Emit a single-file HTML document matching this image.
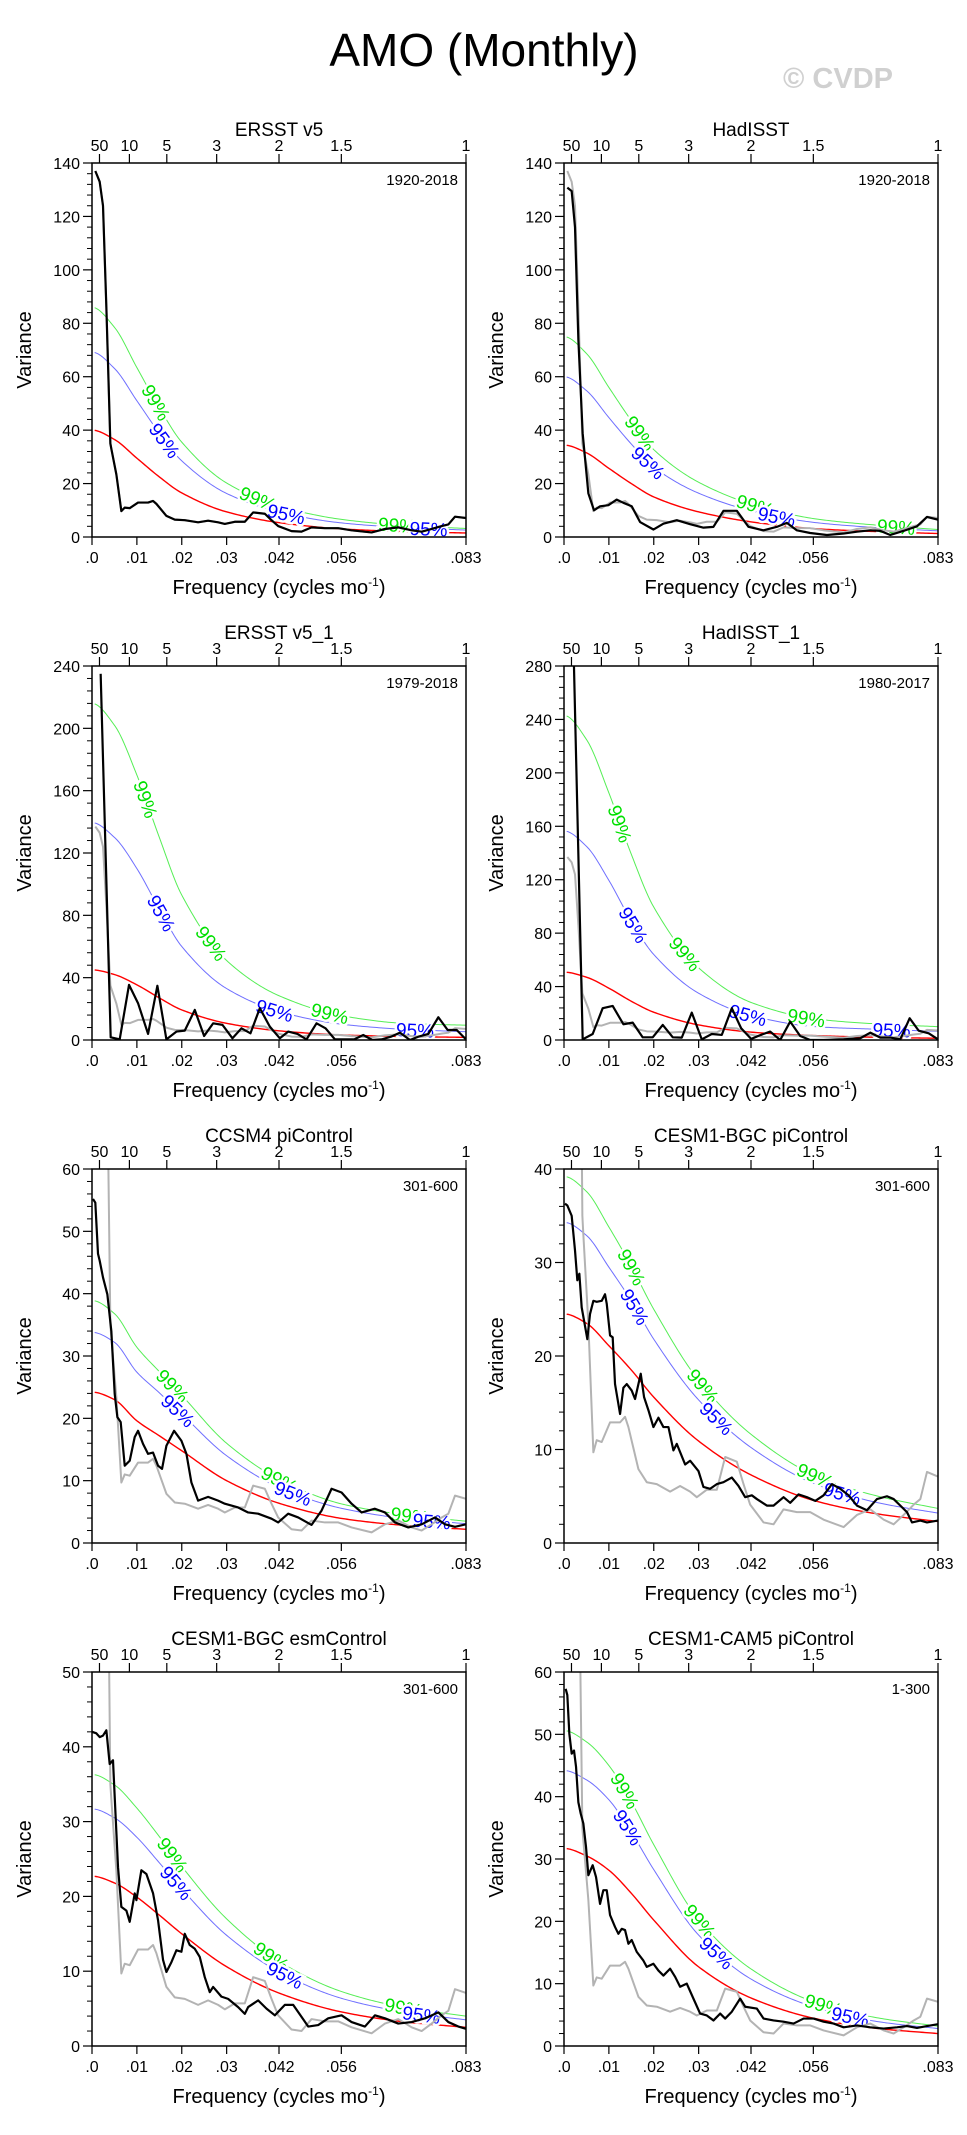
<!DOCTYPE html>
<html><head><meta charset="utf-8"><title>AMO (Monthly)</title>
<style>
html,body{margin:0;padding:0;background:#fff;}
svg{display:block;font-family:"Liberation Sans",Arial,sans-serif;}
</style></head>
<body>
<svg id="fig" width="967" height="2135" viewBox="0 0 967 2135" xmlns="http://www.w3.org/2000/svg">
<rect x="0" y="0" width="967" height="2135" fill="#fff"/>
<text x="484" y="66" font-size="46" text-anchor="middle" fill="#000">AMO (Monthly)</text>
<text x="838" y="88" font-size="29" font-weight="bold" text-anchor="middle" fill="#d0d0d0">© CVDP</text>
<g id="panels"></g>
</svg>
<script>
// ---- shared data ----
const knotFreq = [0, .005, .01, .015, .02, .03, .042, .056, .07, .0833];
const grayFreq = [.00074,.00171,.00245,.0032,.00409,.00431,.00543,.00654,.00729,.0084,.01026,.01249,.0136,.01435,.01658,.01844,.02067,.02364,.02587,.0281,.02959,.03182,.03405,.03591,.03851,.04,.04148,.04446,.04669,.04892,.05189,.05486,.05784,.0623,.06527,.06824,.07122,.07345,.07568,.07791,.0794,.08088,.08333];
const grayVar = [137,133,124,86,35,33,23.4,9.7,11,10.8,12.9,12.9,13.5,12.4,7.9,6.5,6.3,5.5,6.1,5.5,4.9,5.7,5.7,9.2,8.7,6.3,4.1,2.2,2,3.6,3.3,3.3,2.5,1.7,3,3.6,2.5,2,3,4.1,4.7,7.6,7.1];

const p1Freq = grayFreq;
const p1Var = grayVar;
const p1Red = [40,36.5,29.5,22.5,16.5,9.4,5.3,3,2,1.5];
const p1Blue = [69.2,63.1,51,38.9,28.5,16.3,9.2,5.2,3.5,2.6];
const p1Green = [86,78.5,63.4,48.4,35.5,20.2,11.4,6.5,4.3,3.2];

const p2Freq = [.00074,.00171,.00245,.0032,.00416,.00543,.00669,.00803,.00989,.01175,.01323,.01509,.01695,.01992,.02215,.02513,.0281,.03107,.0333,.03553,.03851,.04111,.04446,.04743,.04966,.05189,.05486,.05858,.0623,.06527,.06824,.07048,.0727,.07568,.07865,.08088,.08333];
const p2Var = [130.8,129.5,116,73.9,38.8,16.3,10,11.5,11.9,14,12.8,11.5,5.6,2.8,5,6.3,4.8,3.5,3.8,9.8,9.8,3.8,2.5,3.8,5.3,2.5,1.5,.75,1.3,2,2.5,2.3,.75,2.3,4,7.5,6.5];
const p2Red = [34.4,31.5,25.7,20,15,9.4,5.6,3.1,2,1.3];
const p2Blue = [60,54.8,44.7,34.8,26.1,16.4,9.7,5.4,3.5,2.3];
const p2Green = [75,68.7,56,43.6,32.7,20.5,12.2,6.8,4.4,2.8];

const p3Freq = [.00193,.00416,.00617,.00825,.01026,.01249,.01457,.01658,.01881,.02067,.0229,.02498,.02699,.02907,.0313,.0333,.03531,.03739,.03962,.04185,.04371,.04579,.04780,.05003,.05204,.05412,.05623,.05843,.06044,.06245,.06453,.06661,.06862,.07085,.0727,.07494,.07717,.07925,.08126,.08333];
const p3Var = [235,1.7,.4,35.4,23.6,3.9,34.8,.4,5.4,6,19.3,2.6,10.7,9.7,1.1,7.5,4.3,20.4,8.6,1.1,5.4,3.9,.4,10.7,7.5,.4,.4,.4,3.2,0,.4,2.1,4.7,0,2.1,3.9,14.6,6.4,6.4,.4];
const p3Red = [45,42,35.4,27,19.3,10.7,5.8,3.2,2.2,1.7];
const p3Blue = [139.5,130,110,84,60,33,18,10,6.8,5.3];
const p3Green = [216,202,170,130,93,51,28,15.4,10.6,9.5];

const p4Freq = [.00208,.00416,.00639,.00862,.01085,.01323,.01531,.01754,.01977,.022,.02424,.02624,.02847,.0307,.03293,.03516,.03739,.03947,.0417,.04386,.04594,.04817,.0504,.05263,.05486,.05784,.0623,.06601,.06824,.07048,.0727,.07494,.07702,.07902,.08126,.08333];
const p4Var = [300,.5,4.5,23.8,25.5,11.8,13,2,2,11.3,2,1.8,20.5,.5,4.5,3.8,23.8,8.8,.8,3.8,6.3,0,13.8,3,0,0,.5,1.3,5.5,1.8,1.8,.5,16.3,7,5,.5];
const p4Red = [50.8,47,38.8,29,20.8,11.3,5.8,3.3,2,1.3];
const p4Blue = [156.5,145,119.5,89,64,35,18,10,8,6.5];
const p4Green = [243,225,185,139,99.5,54,27.7,15.8,12,10];

const p5Freq = [.00022,.00074,.00134,.00171,.00245,.00342,.00431,.00506,.00565,.00639,.00729,.0084,.00952,.01026,.01137,.01249,.0136,.01472,.01561,.01658,.01829,.01992,.02104,.02215,.02364,.02587,.0281,.02959,.03256,.03479,.03702,.04,.04148,.04371,.04594,.04892,.05115,.05338,.05561,.05784,.06007,.06304,.06527,.0675,.07048,.07345,.07642,.07865,.08088,.08333];
const p5Var = [55.2,54.6,46.4,45.3,42.6,39.9,34,23.9,20.2,19.4,12.4,13.2,17,18,15.9,14.3,14.5,12.4,11.9,15.6,18,16.4,14.3,9.7,6.8,7.4,6.8,6.3,5.7,4.9,4.7,3.9,3.3,4.7,4.1,2.9,5.2,8.7,8.1,6.3,4.9,5.5,4.9,3.3,2.5,3,4.1,3,2.6,3];
const p5Red = [24.2,23,19.6,17.2,14.8,10,6.3,3.9,2.8,2.2];
const p5Blue = [33.8,32.2,27.4,24.1,20.7,14,8.8,5.5,3.9,3.1];
const p5Green = [38.9,36.8,31.4,27.5,23.7,16,10.1,6.2,4.5,3.5];

const p6Freq = [.00022,.00074,.00171,.00245,.00297,.00342,.00394,.00446,.0052,.0058,.00654,.00729,.0084,.00914,.00952,.01026,.01085,.01137,.01249,.01323,.01398,.01509,.01583,.0171,.01784,.01881,.01992,.02104,.02215,.02327,.02438,.02513,.02699,.0281,.02996,.03107,.03256,.03405,.03553,.03739,.03888,.04037,.04185,.04297,.0452,.04669,.04892,.0504,.05226,.05412,.05598,.05784,.0597,.06155,.06341,.06527,.0675,.06973,.07196,.07345,.07494,.07642,.07754,.0794,.08088,.08333];
const p6Var = [36.3,36.1,35,31.3,28.1,28.8,25.2,23.8,21.8,24.5,25.9,25.8,25.9,26.6,25.6,22.2,22,17,13.8,16.6,17,16.3,15.4,18.1,15.6,14.2,12.4,13.4,12.4,12.4,9.9,10.6,8.4,8.8,7.7,6,5.8,6.3,6.5,7,6.1,4.9,5.1,4.7,4,4,4.9,4.3,5.2,4.9,4.5,5.1,6.3,5.8,5.1,4,3.5,4.7,5,4.7,4,3.3,2.2,2.4,2.2,2.4];
const p6Red = [24.5,23.5,21.1,18.5,15.6,10.9,7.2,4.5,3.1,2.3];
const p6Blue = [34.3,32.9,29.5,25.9,21.8,15.3,10.1,6.3,4.3,3.2];
const p6Green = [39.2,37.6,33.8,29.6,25,17.4,11.5,7.2,5,3.7];

const p7Freq = [.00001,.00097,.00171,.00245,.0032,.00394,.00468,.0052,.0058,.00654,.00766,.0084,.00952,.00989,.011,.01212,.01361,.01472,.01583,.01658,.01769,.01881,.01992,.02067,.02178,.0229,.02401,.02513,.02624,.02699,.02884,.03033,.03256,.03405,.03479,.03702,.03888,.04074,.04297,.04483,.04669,.04817,.0504,.05263,.05561,.05784,.06081,.06304,.06527,.06824,.07122,.07419,.07717,.0794,.08163,.08333];
const p7Var = [42,41.8,41.3,41.5,42.2,37.7,38.2,31.5,23.9,18.6,18.1,16.6,20.4,19.5,23.5,23,20.4,16.8,11.5,9.9,11.2,12.8,12.6,15,13.5,13,11.9,9.2,7.2,7.9,6.6,6.3,5.2,4.3,5.2,6.1,5,4.1,5.5,5.5,3.9,2.6,2.8,3.7,4.1,3.2,2.6,4.1,3.7,3,3.2,3.7,4.5,3.2,2.6,2.3];
const p7Red = [22.7,21.8,19.9,17.5,15,10.6,7,4.5,3.2,2.5];
const p7Blue = [31.7,30.5,27.9,24.5,21,14.8,9.8,6.3,4.5,3.5];
const p7Green = [36.3,34.9,31.8,28,24,17,11.2,7.2,5.1,4];

const p8Freq = [.00037,.00074,.00119,.00171,.00223,.00268,.0032,.00372,.00431,.00491,.00543,.00639,.00714,.00803,.00877,.00952,.01026,.01137,.01212,.01286,.0136,.01435,.01509,.01621,.01769,.01844,.01992,.02104,.02215,.02364,.02476,.02587,.02736,.02884,.03033,.03182,.03331,.03479,.03591,.03739,.03925,.04037,.04297,.04446,.04669,.04892,.05115,.05338,.05561,.05784,.06007,.0623,.06527,.06824,.07122,.07419,.07642,.07865,.08088,.08333];
const p8Var = [57.3,56.3,50.1,46.9,47.4,44.8,39.1,37.3,35.7,31.9,27.4,29,27.1,22.8,25,25,21,19.1,18,18.8,18.6,16.4,17,15.1,13.7,12.7,13.2,12.1,11.3,12.4,11.1,9.5,10,7.6,5.2,4.9,4.1,5.2,4.4,5.5,7.6,6.3,6,4.4,4.1,3.9,3.6,4.4,4.4,3.9,3.6,3,3.3,3,2.8,3,3.2,2.9,3.2,3.5];
const p8Red = [31.7,30.5,28.2,24.5,20.2,12.7,7.6,4.4,2.8,2];
const p8Blue = [44.2,42.7,39.5,34.3,28.3,17.8,10.6,6.2,3.9,2.8];
const p8Green = [50.6,48.8,45,39.2,32.3,20.3,12.2,7,4.5,3.2];

const periodLabels = ["50","10","5","3","2","1.5","1"];
const periodYears = [50,10,5,3,2,1.5,1];
const freqTickLabels = [".0",".01",".02",".03",".042",".056",".083"];
const freqTickValues = [0,.01,.02,.03,1/24,1/18,1/12];

const PW = 374, PH = 374, FMAX = 1/12;
const panels = [
 {id:"ersst-v5", title:"ERSST v5", span:"1920-2018", x0:92, y0:163, ymax:140, ystep:20, f:p1Freq, v:p1Var, red:p1Red, blue:p1Blue, green:p1Green, gl:[.0143,.037,.068], bl:[.0162,.0433,.075]},
 {id:"hadisst", title:"HadISST", span:"1920-2018", x0:564, y0:163, ymax:140, ystep:20, f:p2Freq, v:p2Var, red:p2Red, blue:p2Blue, green:p2Green, gl:[.017,.0426,.074], bl:[.0188,.0474]},
 {id:"ersst-v5-1", title:"ERSST v5_1", span:"1979-2018", x0:92, y0:666, ymax:240, ystep:40, f:p3Freq, v:p3Var, red:p3Red, blue:p3Blue, green:p3Green, gl:[.012,.0266,.053], bl:[.0155,.0407,.072]},
 {id:"hadisst-1", title:"HadISST_1", span:"1980-2017", x0:564, y0:666, ymax:280, ystep:40, f:p4Freq, v:p4Var, red:p4Red, blue:p4Blue, green:p4Green, gl:[.0125,.027,.054], bl:[.0155,.041,.073]},
 {id:"ccsm4-picontrol", title:"CCSM4 piControl", span:"301-600", x0:92, y0:1169, ymax:60, ystep:10, f:p5Freq, v:p5Var, red:p5Red, blue:p5Blue, green:p5Green, gl:[.018,.0418,.0708], bl:[.0192,.0448,.0757]},
 {id:"cesm1-bgc-picontrol", title:"CESM1-BGC piControl", span:"301-600", x0:564, y0:1169, ymax:40, ystep:10, f:p6Freq, v:p6Var, red:p6Red, blue:p6Blue, green:p6Green, gl:[.0151,.031,.056], bl:[.0158,.034,.062]},
 {id:"cesm1-bgc-esmcontrol", title:"CESM1-BGC esmControl", span:"301-600", x0:92, y0:1672, ymax:50, ystep:10, f:p7Freq, v:p7Var, red:p7Red, blue:p7Blue, green:p7Green, gl:[.018,.04,.0694], bl:[.0188,.043,.0734]},
 {id:"cesm1-cam5-picontrol", title:"CESM1-CAM5 piControl", span:"1-300", x0:564, y0:1672, ymax:60, ystep:10, f:p8Freq, v:p8Var, red:p8Red, blue:p8Blue, green:p8Green, gl:[.0136,.0303,.0578], bl:[.0143,.034,.0638]}
];

const NS = "http://www.w3.org/2000/svg";
function mk(tag, attrs, parent){ const e=document.createElementNS(NS,tag); for(const k in attrs) e.setAttribute(k,attrs[k]); if(parent) parent.appendChild(e); return e; }

function monotone(xs, ys){
  const n=xs.length, d=[], m=new Array(n);
  for(let i=0;i<n-1;i++) d.push((ys[i+1]-ys[i])/(xs[i+1]-xs[i]));
  m[0]=0; m[n-1]=d[n-2];
  for(let i=1;i<n-1;i++){ if(d[i-1]*d[i]<=0) m[i]=0; else { m[i]=2/(1/d[i-1]+1/d[i]); } }
  return function(x){
    let i=0; while(i<n-2 && x>xs[i+1]) i++;
    const h=xs[i+1]-xs[i], t=(x-xs[i])/h, t2=t*t, t3=t2*t;
    return (2*t3-3*t2+1)*ys[i]+(t3-2*t2+t)*h*m[i]+(-2*t3+3*t2)*ys[i+1]+(t3-t2)*h*m[i+1];
  };
}

const root = document.getElementById("panels");
panels.forEach((p, pi) => {
  const g = mk("g", {}, root);
  
  
  const X = f => p.x0 + f/FMAX*PW;
  const Y = v => p.y0 + PH - v/p.ymax*PH;
  const clipId = "clip"+pi;
  const cp = mk("clipPath", {id:clipId}, g);
  mk("rect", {x:p.x0, y:p.y0, width:PW, height:PH}, cp);

  const t = mk("text", {x:p.x0+PW/2, y:p.y0-27, "font-size":19, "text-anchor":"middle"}, g);
  t.textContent = p.title;
  
  
  const s = mk("text", {x:p.x0+PW-8, y:p.y0+22, "font-size":15, "text-anchor":"end"}, g);
  s.textContent = p.span;
  
  

  const curves = [[p.red,"#ff0000",1.4,"red-noise-curve"],[p.blue,"#6f6fff",1,"95-percent-curve"],[p.green,"#55ee55",1,"99-percent-curve"]];
  const fns = {};
  curves.forEach(([arr,col,w,nm]) => {
    const fn = monotone(knotFreq, arr);
    fns[nm]=fn;
    let d="";
    for(let k=0;k<=200;k++){ const f=0.0006+(FMAX-0.0006)*k/200; d+=(k?"L":"M")+X(f).toFixed(2)+","+Y(fn(f)).toFixed(2); }
    const path = mk("path", {d:d, fill:"none", stroke:col, "stroke-width":w, "clip-path":"url(#"+clipId+")"}, g);
    
    
  });
  function addLabels(list, fn, txt, col, nm){
    list.forEach(f => {
      const x1=X(f-0.0005), y1=Y(fn(f-0.0005)), x2=X(f+0.0005), y2=Y(fn(f+0.0005));
      let ang = Math.atan2(y2-y1, x2-x1)*180/Math.PI;
      const cx=X(f), cy=Y(fn(f));
      const lt = mk("text", {x:cx, y:cy+7, "font-size":19, "text-anchor":"middle", fill:col, stroke:"#fff", "stroke-width":5, "paint-order":"stroke", transform:"rotate("+ang.toFixed(1)+" "+cx.toFixed(1)+" "+cy.toFixed(1)+")"}, g);
      lt.textContent = txt;
      
      
    });
  }
  addLabels(p.gl, fns["99-percent-curve"], "99%", "#00e000", "99-percent-label");
  addLabels(p.bl, fns["95-percent-curve"], "95%", "#0000ff", "95-percent-label");

  const line = (fs, vs) => fs.map((f,i)=>(i?"L":"M")+X(f).toFixed(2)+","+Y(vs[i]).toFixed(2)).join("");
  const gp = mk("path", {d:line(grayFreq, grayVar), fill:"none", stroke:"#b3b3b3", "stroke-width":2, "stroke-linejoin":"round", "clip-path":"url(#"+clipId+")"}, g);
  
  
  const bp = mk("path", {d:line(p.f, p.v), fill:"none", stroke:"#000", "stroke-width":2.2, "stroke-linejoin":"round", "clip-path":"url(#"+clipId+")"}, g);
  
  

  const fr = mk("rect", {x:p.x0, y:p.y0, width:PW, height:PH, fill:"none", stroke:"#000", "stroke-width":1.5}, g);
  
  

  const nMaj = Math.round(p.ymax/p.ystep);
  for(let k=0;k<=nMaj;k++){
    const v=k*p.ystep, y=Y(v);
    mk("line",{x1:p.x0-9,y1:y,x2:p.x0,y2:y,stroke:"#000","stroke-width":1.2},g);
    const yl = mk("text",{x:p.x0-12,y:y+6,"font-size":16,"text-anchor":"end"},g);
    yl.textContent = String(v);
    
    
    if(k<nMaj){ for(let m=1;m<5;m++){ const ym=Y(v+m*p.ystep/5); mk("line",{x1:p.x0-5,y1:ym,x2:p.x0,y2:ym,stroke:"#000","stroke-width":1},g); } }
  }
  freqTickValues.forEach((f,i) => {
    const x=X(f);
    mk("line",{x1:x,y1:p.y0+PH,x2:x,y2:p.y0+PH+8,stroke:"#000","stroke-width":1.2},g);
    const xl = mk("text",{x:x,y:p.y0+PH+26,"font-size":16,"text-anchor":"middle"},g);
    xl.textContent = freqTickLabels[i];
    
    
  });
  periodYears.forEach((P,i) => {
    const x=X(1/(12*P));
    mk("line",{x1:x,y1:p.y0-9,x2:x,y2:p.y0,stroke:"#000","stroke-width":1.2},g);
    const pl = mk("text",{x:x,y:p.y0-12,"font-size":16,"text-anchor":"middle"},g);
    pl.textContent = periodLabels[i];
    
    
  });
  const xt = mk("text",{x:p.x0+PW/2,y:p.y0+PH+57,"font-size":20,"text-anchor":"middle"},g);
  xt.innerHTML = 'Frequency (cycles mo<tspan dy="-8" font-size="12">-1</tspan><tspan dy="8">)</tspan>';
  
  
  const yx = p.x0-61, yy = p.y0+PH/2;
  const ytl = mk("text",{x:yx,y:yy,"font-size":20,"text-anchor":"middle",transform:"rotate(-90 "+yx+" "+yy+")"},g);
  ytl.textContent = "Variance";
  
  
});
</script>
</body></html>
